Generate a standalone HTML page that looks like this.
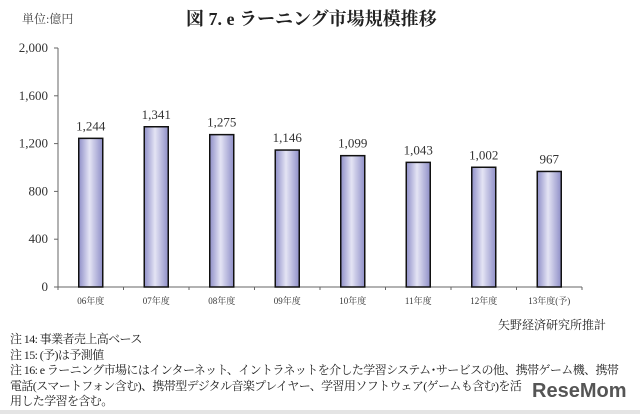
<!DOCTYPE html>
<html><head><meta charset="utf-8"><style>
body{margin:0;width:640px;height:414px;background:#fff;overflow:hidden;font-family:"Liberation Serif","Noto Serif CJK SC",serif;}
.t{position:absolute;white-space:nowrap;color:#222}
</style></head><body>
<div class="t" style="left:22px;top:10px;font-size:12px;color:#444">単位:億円</div>
<div class="t" style="left:186px;top:5px;font-size:18px;font-weight:bold">図 7. e ラーニング市場規模推移</div>
<svg id="chart" width="640" height="320" style="position:absolute;left:0;top:0">
<defs><linearGradient id="g" x1="0" x2="1" y1="0" y2="0">
<stop offset="0" stop-color="#8f8fc8"/><stop offset="0.45" stop-color="#e4e4f4"/><stop offset="1" stop-color="#8f8fc8"/></linearGradient></defs>
</svg>
<div class="t" style="left:498px;top:316px;font-size:12px">矢野経済研究所推計</div>
<div class="t" style="left:10px;top:332px;font-size:12px;line-height:15.5px;letter-spacing:-0.6px">注 14: 事業者売上高ベース<br>注 15: (予)は予測値<br>注 16: e ラーニング市場にはインターネット、イントラネットを介した学習システム･サービスの他、携帯ゲーム機、携帯<br>電話(スマートフォン含む)、携帯型デジタル音楽プレイヤー、学習用ソフトウェア(ゲームも含む)を活<br>用した学習を含む。</div>
<div class="t" style="left:532px;top:380px;font-family:'Liberation Sans',sans-serif;font-weight:bold;font-size:20px;color:#555">ReseMom</div>
<div style="position:absolute;left:0;top:410px;width:640px;height:4px;background:#e4e4e4"></div>
<script>
const categories=["06年度","07年度","08年度","09年度","10年度","11年度","12年度","13年度(予)"];
const values=[1244,1341,1275,1146,1099,1043,1002,967];
const valueLabels=["1,244","1,341","1,275","1,146","1,099","1,043","1,002","967"];
const ticks=[0,400,800,1200,1600,2000];
const tickLabels=["0","400","800","1,200","1,600","2,000"];
const svg=document.getElementById('chart');const NS='http://www.w3.org/2000/svg';
const x0=58,x1=582,y0=287,yTop=48,max=2000;
const y=v=>y0-(v/max)*(y0-yTop);
const bw=(x1-x0)/categories.length;
const xc=i=>x0+bw*(i+0.5);
function mk(t,a,p){const e=document.createElementNS(NS,t);for(const k in a)e.setAttribute(k,a[k]);(p||svg).appendChild(e);return e;}
let e=mk('line',{x1:x0,y1:yTop,x2:x0,y2:y0,stroke:'#666'});


e=mk('line',{x1:x0,y1:y0,x2:x1,y2:y0,stroke:'#666'});


ticks.forEach((t,i)=>{
 mk('line',{x1:x0-4,y1:y(t),x2:x0,y2:y(t),stroke:'#666'});
 const l=mk('text',{x:x0-10,y:y(t)+4,'text-anchor':'end','font-size':13,fill:'#333'});l.textContent=tickLabels[i];
 
 
});
for(let i=0;i<=categories.length;i++)mk('line',{x1:x0+bw*i,y1:y0,x2:x0+bw*i,y2:y0+3,stroke:'#666'});
categories.forEach((c,i)=>{
 const r=mk('rect',{x:xc(i)-12,y:y(values[i]),width:24,height:y0-y(values[i]),fill:'url(#g)',stroke:'#111','stroke-width':1.5});
 
 
 const v=mk('text',{x:xc(i),y:y(values[i])-8,'text-anchor':'middle','font-size':13,fill:'#333'});v.textContent=valueLabels[i];
 
 
 const l=mk('text',{x:xc(i),y:y0+17,'text-anchor':'middle','font-size':9,fill:'#333'});l.textContent=c;
 
 
});
</script>
</body></html>
